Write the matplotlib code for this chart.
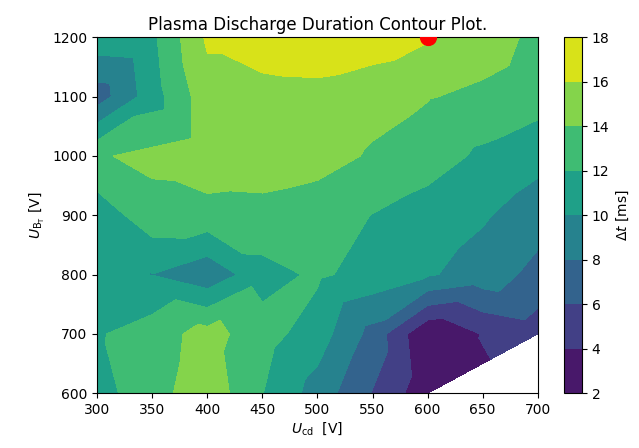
import numpy as np
import matplotlib.pyplot as plt

u_cd = [300, 350, 400, 450, 500, 550, 600, 650, 700]
u_bt = [600, 700, 800, 900, 1000, 1100, 1200]

# discharge duration [ms] for each U_cd, one list per U_BT (nan = no shot)
dt_600 = [11.25, 13.2, 15.3, 12.05, 9.15, 5.9, 2.65, np.nan, np.nan]
dt_700 = [11.8, 13.0, 14.8, 12.8, 11.0, 7.3, 2.1, 4.1, 5.0]
dt_800 = [11.0, 9.95, 8.5, 11.3, 12.3, 11.3, 10.2, 9.2, 7.3]
dt_900 = [10.8, 13.2, 13.3, 13.4, 13.0, 11.95, 11.0, 10.2, 9.0]
dt_1000 = [13.8, 14.5, 15.2, 15.0, 14.7, 13.8, 13.0, 11.6, 10.6]
dt_1100 = [6.95, 11.1, 15.2, 15.2, 15.3, 14.6, 14.1, 13.6, 12.9]
dt_1200 = [11.3, 11.6, 16.3, 17.2, 17.5, 17.2, 16.2, 15.0, 13.5]

best_cd, best_bt = 600, 1200

rows = [dt_600, dt_700, dt_800, dt_900, dt_1000, dt_1100, dt_1200]
x, y, z = [], [], []
for ub, row in zip(u_bt, rows):
    for uc, v in zip(u_cd, row):
        if not np.isnan(v):
            x.append(uc)
            y.append(ub)
            z.append(v)

fig = plt.figure(figsize=(6.39, 4.48), dpi=100)
ax = fig.add_axes([97.3/639, 1 - 393.3/448, 440.4/639, 356/448])
cax = fig.add_axes([564/639, 1 - 393.3/448, 18/639, 356/448])

cs = ax.tricontourf(x, y, z, levels=np.arange(2, 19, 2), cmap='viridis')
ax.scatter(best_cd, best_bt, color='red', s=130, zorder=3)
ax.set_xlim(300, 700)
ax.set_ylim(600, 1200)
ax.set_title('Plasma Discharge Duration Contour Plot.', pad=5)
ax.set_xlabel(r'$U_{\mathrm{cd}}$  [V]', labelpad=2)
ax.set_ylabel(r'$U_{\mathrm{B_T}}$ [V]')

fig.colorbar(cs, cax=cax, label=r'$\Delta t$ [ms]')

fig.savefig('out.png')
